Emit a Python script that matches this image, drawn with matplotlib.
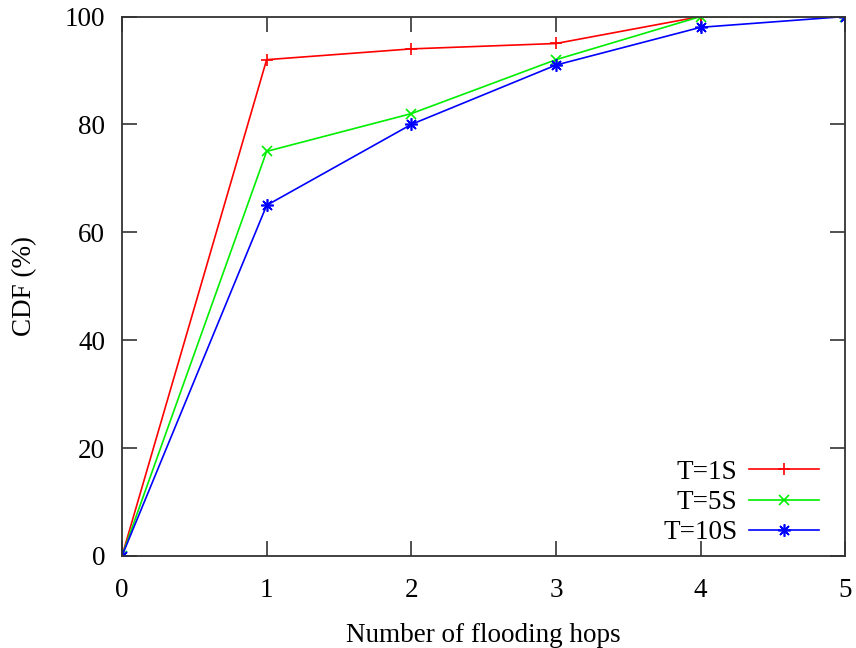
import matplotlib.pyplot as plt

plt.rcParams['font.family'] = ['Liberation Serif', 'DejaVu Serif']

hops = [0, 1, 2, 3, 4, 5]
cdf_1s = [0, 92, 94, 95, 100, 100]
cdf_5s = [0, 75, 82, 92, 100, 100]
cdf_10s = [0, 65, 80, 91, 98, 100]

fs = 19.5

fig = plt.figure(figsize=(8.56, 6.48), dpi=100)
ax = fig.add_axes([0.1425, 0.142, 0.845, 0.8325])

ax.plot(hops, cdf_1s, color='#ff0000', lw=1.2, marker='+', ms=9, mew=1.2, label='T=1S')
ax.plot(hops, cdf_5s, color='#00ee00', lw=1.2, marker='x', ms=7, mew=1.2, label='T=5S')
ax.plot(hops, cdf_10s, color='#0000ff', lw=1.2, marker=(8, 2, 0), ms=9, mew=1.2, label='T=10S')

ax.set_xlim(0, 5)
ax.set_ylim(0, 100)
ax.set_xticks(range(0, 6))
ax.set_yticks(range(0, 101, 20))
ax.tick_params(direction='in', length=11, width=1.2, labelsize=fs, color='#333333',
               top=True, right=True)
ax.tick_params(axis='x', pad=16)
ax.tick_params(axis='y', pad=12)
for s in ax.spines.values():
    s.set_color('#333333')
    s.set_linewidth(1.3)

ax.set_xlabel('Number of flooding hops', fontsize=fs, labelpad=14)
ax.set_ylabel('CDF (%)', fontsize=fs, va='center')
ax.yaxis.set_label_coords(-0.134, 0.5)

ax.legend(loc='lower right', frameon=False, markerfirst=False, fontsize=fs,
          handlelength=2.55, handletextpad=0.45, labelspacing=0.19,
          borderpad=0, borderaxespad=0, bbox_to_anchor=(0.963, 0.02))

fig.savefig('out.png', dpi=100)
